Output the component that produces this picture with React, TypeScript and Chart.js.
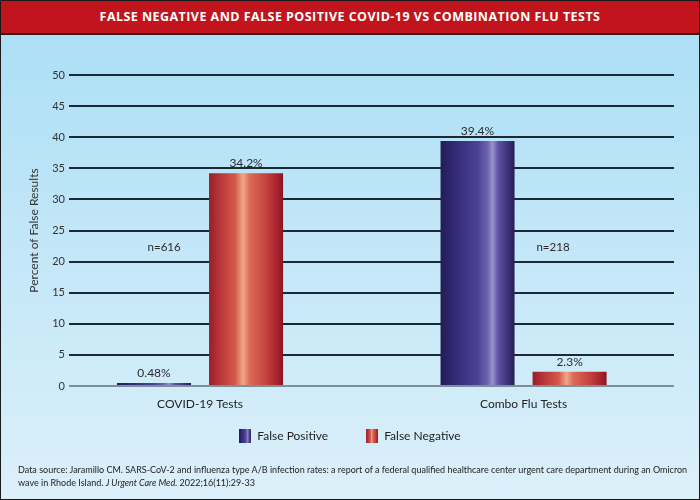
import React, { useEffect, useRef } from 'react';
import { Chart, registerables } from 'chart.js';

Chart.register(...registerables);

// ---------- data ----------
const categories = ['COVID-19 Tests', 'Combo Flu Tests'];
const seriesNames = ['False Positive', 'False Negative'];
const falsePositive = [0.48, 39.4];
const falseNegative = [34.2, 2.3];
const falsePositiveLabels = ['0.48%', '39.4%'];
const falseNegativeLabels = ['34.2%', '2.3%'];
const sampleSizes = ['n=616', 'n=218'];
const yMin = 0;
const yMax = 50;
const yStep = 5;

const titleText = 'FALSE NEGATIVE AND FALSE POSITIVE COVID-19 VS COMBINATION FLU TESTS';
const yAxisTitle = 'Percent of False Results';

// ---------- styles ----------
const FONT = 'Lato, "Open Sans", sans-serif';
const purpleStops: [number, string][] = [
  [0, '#231c56'], [0.25, '#372e7c'], [0.5, '#4d4194'], [0.64, '#6f64b0'],
  [0.7, '#9a92cc'], [0.78, '#5e52a2'], [0.92, '#3a2f78'], [1, '#241c52'],
];
const redStops: [number, string][] = [
  [0, '#962026'], [0.15, '#b8363a'], [0.35, '#d4584a'], [0.46, '#f0a688'],
  [0.55, '#dc6a56'], [0.75, '#c84640'], [0.92, '#a8232e'], [1, '#8a1420'],
];

// annotation placement (in axis units)
const nLabelOffsets = [-0.111, 0.091];
const nLabelValue = 22.3;

function makeGradient(ctx: CanvasRenderingContext2D, x0: number, x1: number, stops: [number, string][]) {
  const g = ctx.createLinearGradient(x0, 0, x1, 0);
  stops.forEach(([o, c]) => g.addColorStop(o, c));
  return g;
}

function swatch(stops: [number, string][]) {
  const c = document.createElement('canvas');
  c.width = 12;
  c.height = 14;
  const cx = c.getContext('2d')!;
  cx.fillStyle = makeGradient(cx, 0, 12, stops);
  cx.fillRect(0, 0, 12, 14);
  return c;
}

const gradientPlugin = {
  id: 'barGradients',
  beforeDatasetsDraw(chart: any) {
    const ctx = chart.ctx;
    chart.data.datasets.forEach((_ds: any, di: number) => {
      const stops = di === 0 ? purpleStops : redStops;
      chart.getDatasetMeta(di).data.forEach((el: any) => {
        const left = el.x - el.width / 2;
        el.options = { ...el.options, backgroundColor: makeGradient(ctx, left, left + el.width, stops) };
      });
    });
  },
};

const labelPlugin = {
  id: 'valueLabels',
  afterDatasetsDraw(chart: any) {
    const { ctx } = chart;
    const sets = [falsePositiveLabels, falseNegativeLabels];
    ctx.save();
    ctx.font = `12px ${FONT}`;
    ctx.fillStyle = '#2b2b2b';
    ctx.textAlign = 'center';
    ctx.textBaseline = 'bottom';
    chart.data.datasets.forEach((_ds: any, di: number) => {
      chart.getDatasetMeta(di).data.forEach((el: any, i: number) => {
        ctx.fillText(sets[di][i], el.x, el.y - 4);
      });
    });
    const xs = chart.scales.x;
    const ys = chart.scales.y;
    ctx.textBaseline = 'middle';
    ctx.font = `11.5px ${FONT}`;
    sampleSizes.forEach((t, i) => {
      ctx.fillText(t, xs.getPixelForValue(i + nLabelOffsets[i]), ys.getPixelForValue(nLabelValue));
    });
    ctx.restore();
  },
};

export default function App() {
  const ref = useRef<HTMLCanvasElement | null>(null);

  useEffect(() => {
    if (!ref.current) return;
    const chart = new Chart(ref.current, {
      type: 'bar',
      data: {
        datasets: [
          {
            label: seriesNames[0],
            data: falsePositive.map((v, i) => ({ x: i, y: v })),
            backgroundColor: () => '#4a3d90',
            borderWidth: 0,
          },
          {
            label: seriesNames[1],
            data: falseNegative.map((v, i) => ({ x: i, y: v })),
            backgroundColor: () => '#c8443c',
            borderWidth: 0,
          },
        ],
      },
      options: {
        responsive: false,
        animation: false,
        categoryPercentage: 0.569,
        barPercentage: 0.804,
        layout: { padding: { top: 40, left: 0, right: 0, bottom: 48 } },
        scales: {
          x: {
            type: 'linear',
            offset: false,
            min: -0.405,
            max: 1.465,
            afterBuildTicks: (s: any) => {
              s.ticks = categories.map((_c, i) => ({ value: i }));
            },
            afterFit: (s: any) => {
              s.height = 6;
            },
            grid: { display: false, offset: false },
            border: { display: false },
            ticks: {
              mirror: true,
              padding: -25,
              autoSkip: false,
              maxRotation: 0,
              font: { family: FONT, size: 12 },
              color: '#222',
              callback: (v: any) => categories[Math.round(Number(v))] ?? '',
            },
          },
          y: {
            min: yMin,
            max: yMax,
            afterFit: (s: any) => {
              s.width = 69;
            },
            border: { display: false },
            grid: {
              drawTicks: false,
              lineWidth: 2,
              color: (c: any) => (c.tick && c.tick.value === 0 ? '#7d8e9c' : '#1b2836'),
            },
            ticks: {
              stepSize: yStep,
              padding: 4,
              font: { family: FONT, size: 11 },
              color: '#333',
            },
            title: {
              display: true,
              text: yAxisTitle,
              font: { family: FONT, size: 12 },
              color: '#333',
              padding: { top: 27, bottom: 0 },
            },
          },
          yRight: {
            position: 'right',
            display: true,
            afterFit: (s: any) => {
              s.width = 26;
            },
            grid: { display: false },
            border: { display: false },
            ticks: { display: false },
          },
        },
        plugins: {
          legend: {
            position: 'bottom',
            labels: {
              usePointStyle: true,
              boxWidth: 12,
              boxHeight: 14,
              padding: 38,
              color: '#222',
              font: { family: FONT, size: 12 },
              generateLabels: () =>
                seriesNames.map((n, i) => ({
                  text: n,
                  pointStyle: swatch(i === 0 ? purpleStops : redStops),
                  fillStyle: i === 0 ? '#4a3d90' : '#c8443c',
                  strokeStyle: 'transparent',
                  lineWidth: 0,
                  hidden: false,
                  datasetIndex: i,
                  fontColor: '#222',
                })),
            },
          },
          tooltip: { enabled: false },
        },
      },
      plugins: [gradientPlugin, labelPlugin],
    } as any);
    return () => chart.destroy();
  }, []);

  return (
    <div
      style={{
        position: 'absolute',
        left: 0,
        top: 0,
        width: 700,
        height: 500,
        overflow: 'hidden',
        background: 'linear-gradient(to bottom, #a9def6 0%, #c3e7f8 50%, #dcf0fa 100%)',
        fontFamily: FONT,
      }}
    >
      <div
        style={{
          position: 'absolute',
          left: 0,
          top: 0,
          width: 700,
          height: 33,
          background: '#c1141d',
          borderBottom: '2px solid #3a1418',
          color: '#fff',
          fontWeight: 700,
          fontSize: 12.5,
          fontFamily: '"Open Sans", sans-serif',
          display: 'flex',
          alignItems: 'center',
          justifyContent: 'center',
          letterSpacing: '0.45px',
        }}
      >
        {titleText}
      </div>
      <canvas
        ref={ref}
        width={700}
        height={465}
        style={{ position: 'absolute', left: 0, top: 35, width: 700, height: 465 }}
      />
      <div
        style={{
          position: 'absolute',
          left: 18,
          top: 463,
          fontSize: 9,
          lineHeight: '13px',
          color: '#222',
          whiteSpace: 'nowrap',
        }}
      >
        Data source: Jaramillo CM. SARS-CoV-2 and influenza type A/B infection rates: a report of a federal qualified healthcare center urgent care department during an Omicron
        <br />
        wave in Rhode Island. <i>J Urgent Care Med.</i> 2022;16(11):29-33
      </div>
      <div
        style={{
          position: 'absolute',
          left: 0,
          top: 0,
          width: 700,
          height: 500,
          boxSizing: 'border-box',
          border: '1px solid #1a1a1a',
          pointerEvents: 'none',
        }}
      />
    </div>
  );
}
